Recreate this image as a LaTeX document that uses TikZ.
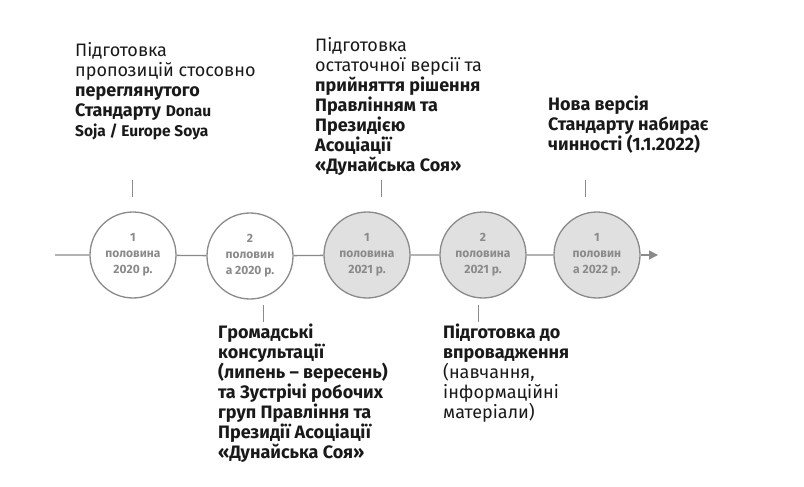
\documentclass[tikz,border=0pt]{standalone}
\usepackage{fontspec}
\setmainfont{Fira Sans}
\usetikzlibrary{arrows.meta}
\definecolor{tlgray}{HTML}{8A8A8A}
\definecolor{tlfill}{HTML}{E0E0E0}
\tikzset{
  period/.style={circle, draw=tlgray, line width=1.3pt, minimum size=86pt, inner sep=0pt,
    align=center, text=tlgray, font=\fontsize{12}{16}\selectfont\bfseries},
  note/.style={anchor=north west, align=left, inner sep=0pt, text=black!90,
    font=\fontsize{18}{20}\selectfont},
  tick/.style={draw=tlgray, line width=0.8pt}
}
\begin{document}
\begin{tikzpicture}[x=1pt,y=-1pt]
\useasboundingbox (0,0) rectangle (804,487);
% timeline
\coordinate (start) at (55,255);
\coordinate (end) at (658,255);
\node[period] (p1) at (133,255) {1\\половина\\2020 р.};
\node[period] (p2) at (250,256) {2\\половин\\а 2020 р.};
\node[period, fill=tlfill] (p3) at (367,255) {1\\половина\\2021 р.};
\node[period, fill=tlfill] (p4) at (483,255) {2\\половина\\2021 р.};
\node[period, fill=tlfill] (p5) at (597,255) {1\\половин\\а 2022 р.};
\draw[tlgray, line width=1.3pt] (start) -- (p1) -- (p2) -- (p3) -- (p4) -- (p5);
\draw[tlgray, line width=1.3pt, -{Triangle[length=9pt,width=9pt]}] (p5) -- (end);
% ticks
\draw[tick] (132,180) -- (132,197);
\draw[tick] (381,180) -- (381,197);
\draw[tick] (585,180) -- (585,197);
\draw[tick] (263,305) -- (263,322);
\draw[tick] (478,305) -- (478,322);
% notes
\node[note] (n1) at (75,42) {Підготовка\\пропозицій стосовно\\\textbf{переглянутого}\\\textbf{Стандарту} {\fontsize{15.5}{20}\selectfont\bfseries Donau}\\{\fontsize{15.5}{20}\selectfont\bfseries Soja / Europe Soya}};
\node[note] (n2) at (315,37) {Підготовка\\остаточної версії та\\\textbf{прийняття рішення}\\\textbf{Правлінням та}\\\textbf{Президією}\\\textbf{Асоціації}\\\textbf{«Дунайська Соя»}};
\node[note] (n3) at (548,96) {\textbf{Нова версія}\\\textbf{Стандарту набирає}\\\textbf{чинності (1.1.2022)}};
\node[note] (n4) at (218,324) {\textbf{Громадські}\\\textbf{консультації}\\\textbf{(липень – вересень)}\\\textbf{та Зустрічі робочих}\\\textbf{груп Правління та}\\\textbf{Президії Асоціації}\\\textbf{«Дунайська Соя»}};
\node[note] (n5) at (443,324) {\textbf{Підготовка до}\\\textbf{впровадження}\\(навчання,\\інформаційні\\матеріали)};
\end{tikzpicture}
\end{document}
